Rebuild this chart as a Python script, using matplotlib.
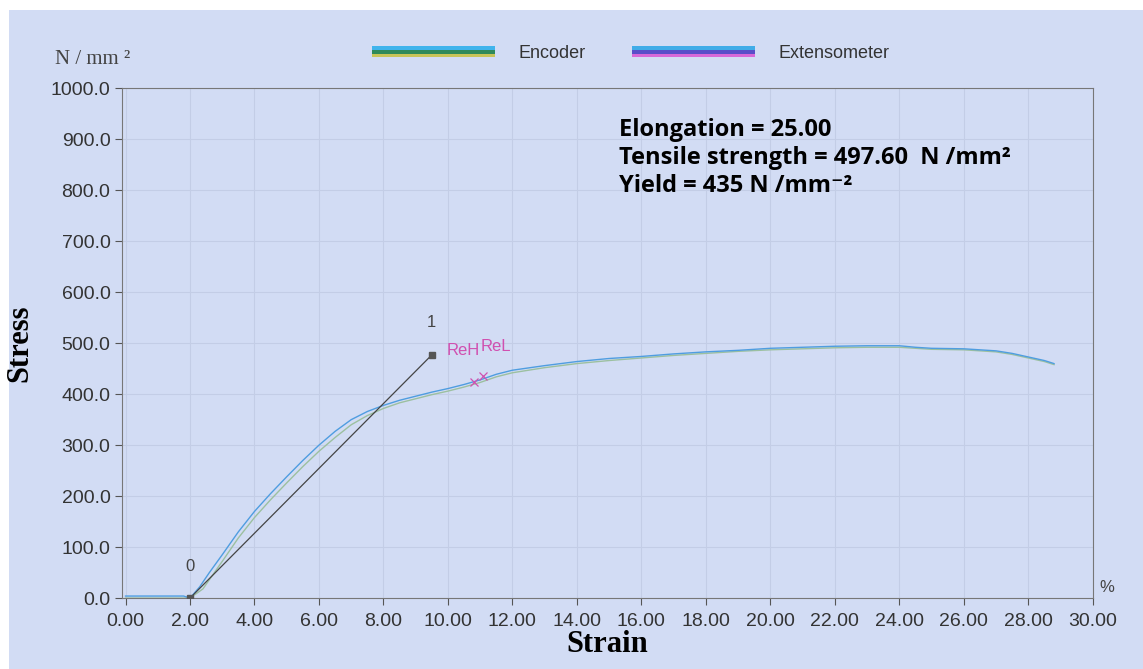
import matplotlib.pyplot as plt
from matplotlib.lines import Line2D
from matplotlib.legend_handler import HandlerBase
from matplotlib.patches import Rectangle

# Extensometer curve (strain %, stress N/mm2)
ext_strain = [0.0, 1.8, 2.0, 2.3, 2.6, 3.0, 3.5, 4.0, 4.5, 5.0, 5.5, 6.0, 6.5, 7.0,
              7.5, 8.0, 8.5, 9.0, 9.5, 10.0, 10.5, 11.0, 11.5, 12.0, 13.0, 14.0,
              15.0, 16.0, 17.0, 18.0, 19.0, 20.0, 21.0, 22.0, 23.0, 24.0, 24.5,
              25.0, 26.0, 27.0, 27.5, 28.0, 28.5, 28.8]
ext_stress = [4, 4, 0, 22, 50, 85, 130, 170, 205, 238, 270, 300, 327, 350,
              366, 378, 388, 396, 404, 411, 419, 428, 439, 447, 456, 464,
              470, 474, 479, 483, 486, 490, 492, 494, 495, 495, 492,
              490, 489, 485, 480, 473, 466, 460]

# Encoder curve, sits slightly below the extensometer
enc_strain = [0.0, 2.0, 2.4, 2.7, 3.0, 3.5, 4.0, 4.5, 5.0, 5.5, 6.0, 6.5, 7.0,
              7.5, 8.0, 8.5, 9.0, 9.5, 10.0, 10.5, 11.0, 11.5, 12.0, 13.0, 14.0,
              15.0, 16.0, 17.0, 18.0, 19.0, 20.0, 21.0, 22.0, 23.0, 24.0, 24.5,
              25.0, 26.0, 27.0, 27.5, 28.0, 28.5, 28.8]
enc_stress = [0, 0, 18, 45, 72, 118, 158, 193, 226, 258, 288, 315, 340,
              358, 372, 383, 391, 399, 406, 414, 423, 434, 442, 452, 460,
              466, 471, 476, 480, 484, 487, 489, 491, 492, 492, 490,
              488, 487, 483, 478, 471, 464, 458]

# Modulus line between points 0 and 1
line_strain = [2.0, 9.5]
line_stress = [0, 477]
line_labels = ['0', '1']

# Yield markers
yield_strain = [10.8, 11.1]
yield_stress = [424, 435]

xticks = [0, 2, 4, 6, 8, 10, 12, 14, 16, 18, 20, 22, 24, 26, 28, 30]
yticks = [0, 100, 200, 300, 400, 500, 600, 700, 800, 900, 1000]


class StripeHandler(HandlerBase):
    """Legend key drawn as a bar of horizontal colour stripes (top to bottom)."""

    def __init__(self, colors):
        super().__init__()
        self.colors = colors

    def create_artists(self, legend, orig_handle, xdescent, ydescent, width,
                       height, fontsize, trans):
        n = len(self.colors)
        h = height / n
        arts = []
        for i, c in enumerate(self.colors):
            y0 = -ydescent + height - (i + 1) * h
            arts.append(Rectangle((-xdescent, y0), width, h, facecolor=c,
                                  edgecolor='none', transform=trans))
        return arts


bg = '#d2dcf4'
plt.rcParams['font.family'] = ['Liberation Sans', 'DejaVu Sans']

fig = plt.figure(figsize=(11.43, 6.69), dpi=100)
fig.patch.set_facecolor('white')
fig.patches.append(Rectangle((0.008, 0), 0.992, 0.985, transform=fig.transFigure,
                             facecolor=bg, edgecolor='none', zorder=-10))

ax = fig.add_axes([0.107, 0.106, 0.849, 0.762])
ax.set_facecolor(bg)

ax.plot(enc_strain, enc_stress, color='#9cc0a0', linewidth=1.0, zorder=2)
ax.plot(ext_strain, ext_stress, color='#4f9de0', linewidth=1.0, zorder=3)

ax.plot(line_strain, line_stress, color='#444444', linewidth=0.9, zorder=4)
ax.plot(line_strain, line_stress, linestyle='none', marker='s', markersize=4,
        color='#555555', zorder=5)
for xs, ys, lab in zip(line_strain, line_stress, line_labels):
    ax.text(xs, ys + 48, lab, ha='center', va='bottom', fontsize=12, color='#444444')

ax.plot(yield_strain, yield_stress, linestyle='none', marker='x', markersize=6,
        color='#d050b0', markeredgewidth=0.9, zorder=5)
ax.text(9.95, 470, 'ReH', color='#d050b0', fontsize=12, ha='left', va='bottom')
ax.text(11.0, 478, 'ReL', color='#d050b0', fontsize=12, ha='left', va='bottom')

ax.set_xlim(-0.1, 30)
ax.set_ylim(0, 1000)
ax.set_xticks(xticks)
ax.set_xticklabels([f'{v:.2f}' for v in xticks])
ax.set_yticks(yticks)
ax.set_yticklabels([f'{v:.1f}' for v in yticks])
ax.tick_params(axis='both', labelsize=14, labelcolor='#333333', color='#555555',
               direction='out', length=5, width=0.8)
ax.tick_params(axis='x', pad=6)
ax.grid(True, color='#c3cde6', linewidth=0.8)
ax.set_axisbelow(True)
for sp in ax.spines.values():
    sp.set_color('#777777')
    sp.set_linewidth(0.8)

ax.set_xlabel('Strain', fontsize=22, fontweight='bold', family='Liberation Serif',
              labelpad=0)
ax.set_ylabel('Stress', fontsize=22, fontweight='bold', family='Liberation Serif',
              labelpad=12)

fig.text(0.048, 0.905, 'N / mm ²', fontsize=15, family='Liberation Serif', color='#444444')
fig.text(0.968, 0.115, '%', fontsize=12, color='#444444', ha='center')

info = ['Elongation = 25.00',
        'Tensile strength = 497.60  N /mm²',
        'Yield = 435 N /mm⁻²']
for i, s in enumerate(info):
    ax.text(15.3, 918 - i * 55, s, fontsize=17, fontweight='bold',
            family=['Open Sans', 'DejaVu Sans'], color='black', va='center')

# legend with striped bars
enc_handle = Line2D([], [])
ext_handle = Line2D([], [])
fig.legend([enc_handle, ext_handle], ['Encoder', 'Extensometer'], ncol=2,
           loc='center', bbox_to_anchor=(0.552, 0.92), frameon=False,
           handlelength=6.8, handleheight=0.6, columnspacing=2.6, handletextpad=1.3,
           fontsize=13, labelcolor='#333333',
           handler_map={enc_handle: StripeHandler(['#40b4ec', '#2f8a5a', '#c8c458']),
                        ext_handle: StripeHandler(['#40ace8', '#5a4ec8', '#d868d8'])})

fig.savefig('out.png', dpi=100, facecolor=fig.get_facecolor())
